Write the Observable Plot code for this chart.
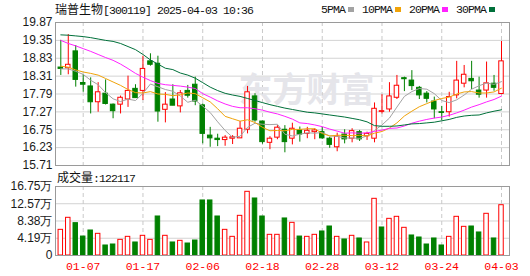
<!DOCTYPE html>
<html><head><meta charset="utf-8">
<script src="https://cdn.jsdelivr.net/npm/d3@7"></script>
<script src="https://cdn.jsdelivr.net/npm/@observablehq/plot@0.6"></script>
<style>
body{margin:0;background:#fff;}
#wrap{position:relative;width:530px;height:276px;overflow:hidden;background:#fff;}
#wrap svg{position:absolute;left:0;}
.lbl{position:absolute;white-space:nowrap;height:16px;line-height:16px;color:#111;font-size:12px;}
.cjk{font-family:"Noto Sans CJK SC",sans-serif;font-size:12px;}
.mono{font-family:"Liberation Mono",monospace;font-size:11.5px;letter-spacing:-0.9px;}
#legend{position:absolute;left:321px;top:1px;display:flex;align-items:center;height:16px;}
#legend .sq{display:inline-block;width:6px;height:5px;margin:0 8px 0 3px;}
</style></head><body>
<div id="wrap"></div>
<script>
// ---- data ----
const stockName = "瑞普生物", stockCode = "300119", stamp = "2025-04-03 10:36";
const volumeNow = 122117;
const dates = ["01-02","01-03","01-06","01-07","01-08","01-09","01-10","01-13","01-14","01-15","01-16","01-17","01-20","01-21","01-22","01-23","01-24","01-27",
"02-05","02-06","02-07","02-10","02-11","02-12","02-13","02-14","02-17","02-18","02-19","02-20","02-21","02-24","02-25","02-26","02-27","02-28",
"03-03","03-04","03-05","03-06","03-07","03-10","03-11","03-12","03-13","03-14","03-17","03-18","03-19","03-20","03-21","03-24","03-25","03-26","03-27","03-28","03-31",
"04-01","04-02","04-03"];
const open = [18.56,18.54,19.03,18.11,18.01,17.55,17.80,17.48,17.48,17.63,17.94,17.88,18.74,18.67,17.33,17.63,17.43,17.88,18.06,17.46,16.58,16.49,16.45,16.49,16.50,16.75,17.72,16.99,16.37,16.52,16.75,16.49,16.73,16.63,16.68,16.68,16.49,16.24,16.61,16.49,16.68,16.56,16.49,17.27,17.34,17.68,18.25,18.18,17.97,17.80,17.57,17.26,17.26,17.75,18.09,18.23,17.89,17.89,18.09,17.79];
const high = [19.35,19.52,19.20,18.35,18.26,18.12,18.20,17.50,17.73,18.31,18.06,18.89,18.96,18.89,17.83,18.06,17.89,18.04,18.28,17.50,16.82,16.62,16.58,16.58,16.99,18.01,17.80,17.00,16.55,16.87,16.87,16.94,16.83,16.82,16.78,16.82,16.53,16.65,16.75,16.78,16.73,16.68,17.53,17.77,18.12,18.33,18.28,18.47,18.01,17.86,17.70,17.43,17.84,18.74,18.62,18.74,18.28,18.72,18.33,19.32];
const low = [18.33,18.35,17.99,17.84,17.21,17.26,17.47,17.07,17.21,17.40,17.67,17.60,18.60,16.97,16.95,17.45,17.24,17.67,17.45,16.34,16.24,16.26,16.27,16.32,16.50,16.63,16.97,16.33,16.17,16.46,16.08,16.31,16.39,16.49,16.46,16.47,16.21,16.11,16.34,16.37,16.41,16.44,16.37,17.21,17.26,17.63,17.86,17.89,17.63,17.53,17.07,17.02,17.12,17.65,17.97,17.92,17.67,17.67,17.87,17.77];
const close = [18.52,18.64,18.20,18.06,17.55,17.84,17.50,17.29,17.68,17.88,17.67,18.52,18.64,17.28,17.48,17.45,17.81,17.74,17.57,16.63,16.50,16.45,16.52,16.53,16.78,17.84,17.02,16.39,16.49,16.81,16.39,16.78,16.61,16.72,16.73,16.50,16.31,16.55,16.47,16.71,16.47,16.63,17.36,17.29,17.72,18.03,18.22,18.02,17.75,17.65,17.34,17.24,17.70,18.18,18.35,18.16,17.77,18.10,17.97,18.74];
const lastCloseBefore = 18.40;
const volume = [6.23,9.15,7.85,4.60,6.07,5.26,2.43,2.67,3.80,4.53,3.16,4.78,3.80,9.47,4.78,3.16,3.56,2.91,3.64,13.36,13.36,9.47,6.23,4.53,9.63,15.46,13.84,9.47,5.02,5.02,8.99,7.93,4.60,4.53,5.02,5.83,7.04,4.53,3.89,4.78,4.13,3.16,13.76,6.80,8.90,9.39,6.72,4.86,4.37,2.67,4.13,2.43,4.53,9.39,6.96,7.04,5.59,10.12,4.13,12.21];
const ma5 = [18.52,18.52,18.45,18.36,18.19,18.06,17.83,17.65,17.57,17.64,17.60,17.81,18.08,18.00,17.92,17.87,17.73,17.55,17.61,17.44,17.25,16.98,16.73,16.53,16.56,16.82,16.94,16.91,16.90,16.91,16.62,16.57,16.62,16.66,16.65,16.67,16.57,16.56,16.51,16.51,16.50,16.57,16.73,16.89,17.09,17.41,17.72,17.86,17.95,17.93,17.80,17.60,17.54,17.62,17.76,17.93,18.03,18.11,18.07,18.15];
const ma10 = [18.60,18.57,18.49,18.43,18.39,18.34,18.24,18.14,18.04,17.92,17.83,17.82,17.86,17.79,17.78,17.74,17.77,17.82,17.80,17.68,17.56,17.36,17.14,17.07,17.00,17.04,16.96,16.82,16.72,16.73,16.72,16.76,16.76,16.78,16.78,16.64,16.57,16.59,16.59,16.58,16.59,16.57,16.65,16.70,16.80,16.95,17.15,17.29,17.42,17.51,17.60,17.66,17.70,17.79,17.85,17.86,17.82,17.82,17.85,17.96];
const ma20 = [19.35,19.26,19.19,19.11,19.03,18.94,18.85,18.77,18.66,18.53,18.39,18.28,18.18,18.10,18.06,18.04,18.02,17.99,17.95,17.80,17.70,17.59,17.50,17.43,17.39,17.39,17.36,17.32,17.26,17.21,17.14,17.06,16.95,16.93,16.89,16.84,16.77,16.71,16.65,16.66,16.65,16.66,16.70,16.74,16.79,16.80,16.86,16.94,17.00,17.05,17.09,17.12,17.17,17.24,17.32,17.41,17.48,17.56,17.63,17.73];
const ma30 = [19.51,19.50,19.48,19.46,19.43,19.39,19.35,19.32,19.26,19.17,19.08,18.94,18.78,18.66,18.54,18.50,18.40,18.34,18.25,18.12,17.99,17.89,17.81,17.76,17.72,17.66,17.60,17.54,17.48,17.43,17.38,17.34,17.30,17.26,17.24,17.21,17.18,17.15,17.12,17.08,17.04,16.98,16.87,16.85,16.85,16.86,16.89,16.92,16.93,16.95,16.97,17.01,17.05,17.11,17.15,17.17,17.18,17.24,17.29,17.33];
const priceTicks = [15.71,16.23,16.75,17.27,17.79,18.31,18.83,19.35,19.87];
const volTicks = [0,4.19,8.38,12.57,16.75];
const dateTicks = ["01-07","01-17","02-06","02-18","02-28","03-12","03-24","04-03"];
const maNames = ["5PMA","10PMA","20PMA","30PMA"];

// ---- styling ----
const RED = "#ff0000", GREEN = "#008000";
const maColors = ["#a3a3a3","#f0a30a","#ff22ff","#00703a"];
const GRID = "#d3d3d3", DASH = "#c9c9c9", FRAME = "#9a9a9a";
const numFont = "'Liberation Sans', Arial, sans-serif";

const n = dates.length;
const rows = d3.range(n).map(i => ({i, o: open[i], h: high[i], l: low[i], c: close[i], up: close[i] >= open[i],
  v: volume[i], vup: close[i] >= (i === 0 ? lastCloseBefore : close[i - 1])}));
const tickIdx = dateTicks.map(d => dates.indexOf(d));
const xDomain = [-0.71, n + 0.07];
const maList = [ma5, ma10, ma20, ma30];
const maRows = maList.map(arr => arr.map((v, i) => ({i, v})));

const wrap = document.getElementById("wrap");

const topPlot = Plot.plot({
  width: 530, height: 173, marginTop: 22, marginBottom: 8, marginLeft: 55, marginRight: 21,
  style: {background: "none", fontFamily: numFont, fontSize: "12px", color: "#1a1a1a"},
  color: {type: "identity"},
  x: {type: "linear", domain: xDomain, axis: null},
  y: {domain: [15.71, 19.87], axis: null},
  marks: [
    Plot.ruleY(priceTicks.slice(1, -1), {stroke: GRID}),
    Plot.ruleX(tickIdx, {stroke: DASH, strokeDasharray: "4,3"}),
    Plot.text(["东方财富"], {frameAnchor: "middle", dx: 24, dy: -3, fontSize: 34, fontWeight: "bold",
      fontFamily: "'Noto Sans CJK SC', sans-serif", fill: "#e5e5ea"}),
    Plot.ruleX(rows, {x: "i", y1: "l", y2: "h", stroke: d => d.up ? RED : GREEN}),
    Plot.rect(rows, {x1: d => d.i - 0.3, x2: d => d.i + 0.3, y1: "o", y2: "c",
      fill: d => d.up ? "#fff" : GREEN, stroke: d => d.up ? RED : GREEN}),
    ...maRows.map((r, k) => Plot.line(r, {x: "i", y: "v", stroke: maColors[k], strokeWidth: 1})),
    Plot.frame({stroke: FRAME}),
    Plot.axisY(priceTicks, {tickFormat: d => d.toFixed(2), tickSize: 0, tickPadding: 3, fontSize: 12, label: null})
  ]
});
topPlot.style.top = "0px";
wrap.appendChild(topPlot);

const botPlot = Plot.plot({
  width: 530, height: 100, marginTop: 10, marginBottom: 21, marginLeft: 55, marginRight: 21,
  style: {background: "none", fontFamily: numFont, fontSize: "12px", color: "#1a1a1a"},
  color: {type: "identity"},
  x: {type: "linear", domain: xDomain, axis: null},
  y: {domain: [0, 16.75], axis: null},
  marks: [
    Plot.ruleY(volTicks.slice(1, -1), {stroke: GRID}),
    Plot.ruleX(tickIdx, {stroke: DASH, strokeDasharray: "4,3"}),
    Plot.rect(rows, {x1: d => d.i - 0.3, x2: d => d.i + 0.3, y1: 0, y2: "v",
      fill: d => d.vup ? "#fff" : GREEN, stroke: d => d.vup ? RED : GREEN}),
    Plot.frame({stroke: FRAME}),
    Plot.axisY(volTicks, {tickFormat: d => d === 0 ? "0" : d.toFixed(2) + "万", tickSize: 0, tickPadding: 3, fontSize: 12, label: null}),
    Plot.axisX(tickIdx, {tickFormat: i => dates[i], tickSize: 0, tickPadding: 6, color: RED, fill: RED,
      fontFamily: "'Liberation Mono', monospace", fontSize: 11.5, label: null})
  ]
});
botPlot.style.top = "176px";
wrap.appendChild(botPlot);

// title
const title = document.createElement("div");
title.className = "lbl";
title.style.left = "55px"; title.style.top = "1px";
title.innerHTML = `<span class="cjk">${stockName}</span><span class="mono">[${stockCode}] ${stamp}</span>`;
wrap.appendChild(title);

// legend
const legend = document.createElement("div");
legend.id = "legend";
legend.innerHTML = maNames.map((nm, k) => `<span class="mono" style="color:#111">${nm}</span><span class="sq" style="background:${maColors[k]}"></span>`).join("");
wrap.appendChild(legend);

// volume title
const vt = document.createElement("div");
vt.className = "lbl";
vt.style.left = "57px"; vt.style.top = "169px";
vt.innerHTML = `<span class="cjk">成交量</span><span class="mono">:${volumeNow}</span>`;
wrap.appendChild(vt);
</script>
</body></html>
